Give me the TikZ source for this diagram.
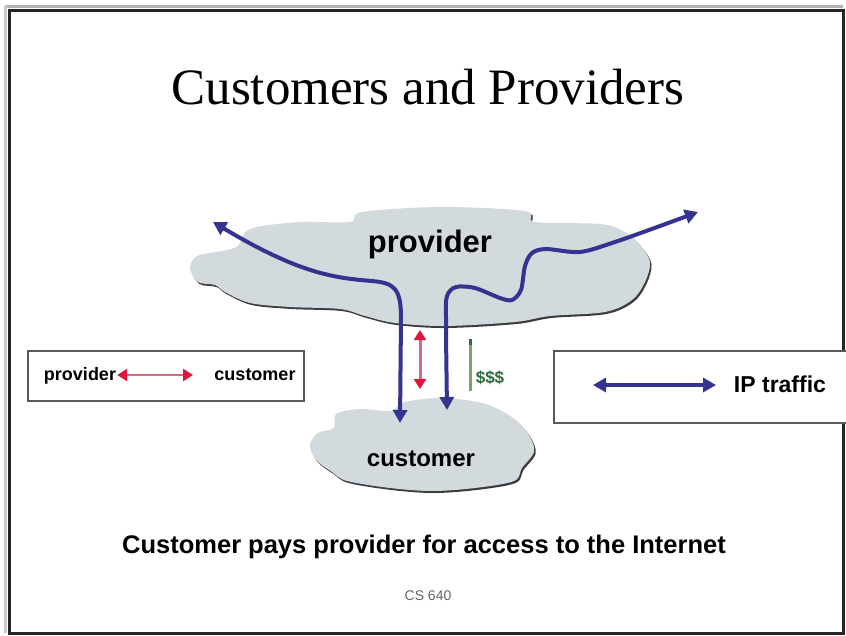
\documentclass[tikz,border=0pt]{standalone}
\usepackage{fontspec}
\setmainfont{Liberation Serif}
\setsansfont{Liberation Sans}
\usetikzlibrary{arrows.meta}
\definecolor{cloudfill}{HTML}{D3DADD}
\definecolor{cloudshadow}{HTML}{3C3C3C}
\definecolor{ipblue}{HTML}{343490}
\definecolor{payred}{HTML}{E0143C}
\definecolor{paypink}{HTML}{D86A7E}
\definecolor{cashgreen}{HTML}{70A868}
\definecolor{cashdark}{HTML}{2E6A3A}
\tikzset{
  ipline/.style={draw=ipblue, line width=4pt, line cap=round,
    {Triangle[width=14pt,length=13pt]}-{Triangle[width=14pt,length=13pt]}},
  payline/.style={draw=paypink, line width=3pt,
    {Triangle[width=12pt,length=10pt,color=payred]}-{Triangle[width=12pt,length=10pt,color=payred]}},
  legendbox/.style={draw=black!65, line width=2pt, fill=white},
  boldlabel/.style={font=\sffamily\bfseries, inner sep=0pt, anchor=base}
}
\begin{document}
\begin{tikzpicture}[x=1pt,y=-1pt]
\useasboundingbox (0,0) rectangle (846,635);
\fill[white] (0,0) rectangle (846,635);
% slide frame
\draw[black!30, line width=3pt] (5,6) -- (843,6);
\draw[black!20, line width=3pt] (5,6) -- (5,633);
\draw[black!85, line width=3pt] (9,10) rectangle (843,633);

% title
\node[font=\fontsize{51}{60}\selectfont, inner sep=0pt, anchor=base] (title) at (428,104) {Customers and Providers};

% provider cloud
\def\providercloud{(190,268) (197,256) (222,251) (238,246) (250,229) (300,222) (350,222) (362,212) (440,207) (525,211) (535,222) (600,224) (625,232) (640,245) (650,262) (645,282) (632,300) (605,312) (550,316) (515,322) (445,326) (395,323) (365,316) (340,309) (290,307) (250,303) (225,292) (215,285) (198,282)}
\fill[cloudshadow, shift={(1.5,2)}] plot[smooth cycle, tension=0.55] coordinates \providercloud;
\fill[cloudfill] plot[smooth cycle, tension=0.55] coordinates \providercloud;
\node[boldlabel, font=\sffamily\bfseries\fontsize{31}{36}\selectfont] (provider) at (430,252) {provider};

% customer cloud
\def\customercloud{(310,445) (318,433) (334,428) (336,414) (360,409) (390,411) (405,402) (440,398) (478,402) (500,410) (518,422) (530,437) (534,452) (522,468) (514,481) (475,488) (432,491) (390,488) (347,481) (332,472) (316,460)}
\fill[cloudshadow, shift={(1.5,2)}] plot[smooth cycle, tension=0.55] coordinates \customercloud;
\fill[cloudfill] plot[smooth cycle, tension=0.55] coordinates \customercloud;
\node[boldlabel, font=\sffamily\bfseries\fontsize{24}{28}\selectfont] (customer) at (421,466) {customer};

% connector end points
\coordinate (ipAbot) at (400,423);
\coordinate (ipAtop) at (213,222);
\coordinate (ipBbot) at (447,410);
\coordinate (ipBtop) at (698,212);
\coordinate (payTop) at (420,330);
\coordinate (payBot) at (420,389);
\coordinate (cashTop) at (470,341);
\coordinate (cashBot) at (470,391);

% IP traffic paths
\draw[ipline] (ipAbot) -- (401,318) .. controls (401,288) and (394,283) .. (372,281)
  .. controls (335,278) and (300,274) .. (ipAtop);
\draw[ipline] plot[smooth, tension=0.5] coordinates {(ipBbot) (446,320) (447,296) (456,287) (475,288) (500,298) (512,300) (521,290) (525,266) (532,253) (546,249) (580,252) (615,242) (660,226) (ipBtop)};

% payment (provider-customer) arrow
\draw[payline] (payTop) -- (payBot);

% money
\draw[cashgreen, line width=3pt] (cashTop) -- (cashBot);
\draw[cashdark, line width=3pt] (470,339) -- (470,345);
\node[boldlabel, font=\sffamily\bfseries\fontsize{17}{20}\selectfont, text=cashdark] (cash) at (490,383) {\$\$\$};

% left legend
\node[legendbox, minimum width=276pt, minimum height=50pt, inner sep=0pt, anchor=north west] (legA) at (27,350) {};
\node[boldlabel, font=\sffamily\bfseries\fontsize{18}{20}\selectfont] (legAprov) at (80,380) {provider};
\node[boldlabel, font=\sffamily\bfseries\fontsize{18}{20}\selectfont] (legAcust) at (255,380) {customer};
\draw[payline, line width=2.5pt] (legAprov.east |- 0,375) ++(1,0) coordinate (legAs) -- (193,375) coordinate (legAe);

% right legend
\node[legendbox, minimum width=296pt, minimum height=72pt, inner sep=0pt, anchor=north west] (legB) at (553,350) {};
\coordinate (legBs) at (593,385);
\coordinate (legBe) at (716,385);
\draw[ipline] (legBs) -- (legBe);
\node[boldlabel, font=\sffamily\bfseries\fontsize{23}{26}\selectfont] (legBtxt) at (780,392) {IP traffic};

% caption
\node[boldlabel, font=\sffamily\bfseries\fontsize{25.5}{30}\selectfont] (caption) at (424,553) {Customer pays provider for access to the Internet};
\node[boldlabel, font=\sffamily\fontsize{14}{16}\selectfont, text=black!60] (course) at (428,600) {CS 640};
\end{tikzpicture}
\end{document}
